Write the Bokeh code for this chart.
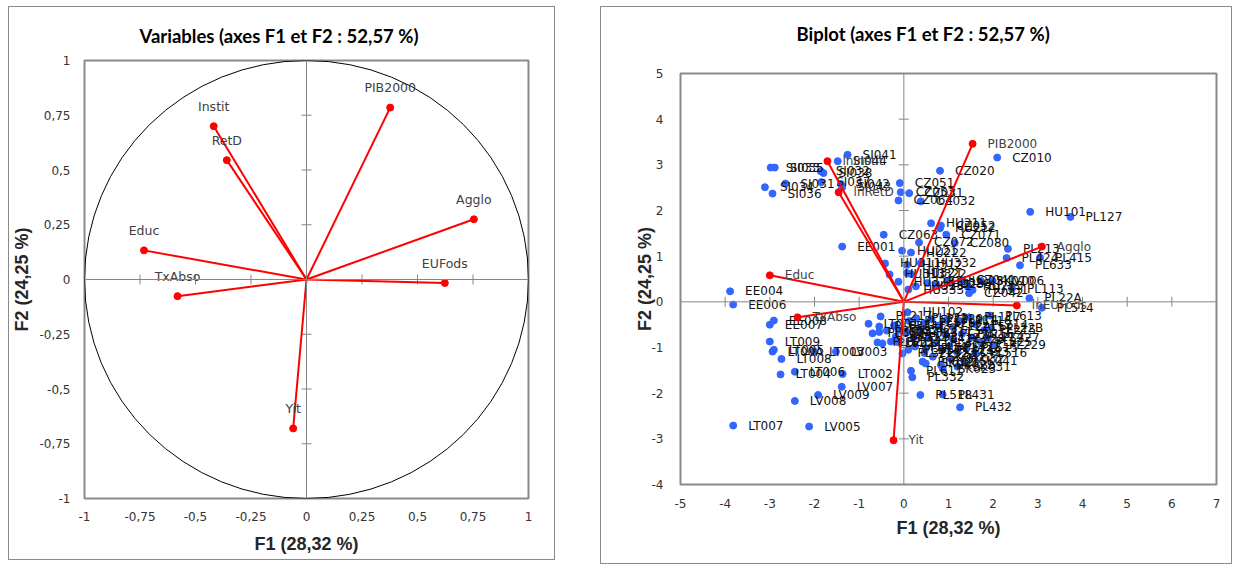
import math
from bokeh.plotting import figure
from bokeh.models import Span, FixedTicker, Range1d, CustomJSTickFormatter, Title
from bokeh.embed import file_html
from bokeh.resources import INLINE
from bokeh.core.properties import value

TITLE_L = "Variables (axes F1 et F2 : 52,57 %)"
TITLE_R = "Biplot (axes F1 et F2 : 52,57 %)"
X_TITLE = "F1 (28,32 %)"
Y_TITLE = "F2 (24,25 %)"

# ---- correlation circle (variables) ----
var_names = ["PIB2000", "Instit", "RetD", "Agglo", "Educ", "EUFods", "TxAbso", "Yit"]
var_f1 = [0.377, -0.418, -0.359, 0.754, -0.732, 0.623, -0.581, -0.060]
var_f2 = [0.785, 0.700, 0.545, 0.275, 0.133, -0.016, -0.076, -0.680]

# ---- biplot vectors ----
vec_names = ["PIB2000", "lnInstit", "lnRetD", "Agglo", "Educ", "lnEUFods", "TxAbso", "Yit"]
vec_f1 = [1.54, -1.71, -1.46, 3.09, -3.00, 2.53, -2.38, -0.23]
vec_f2 = [3.46, 3.08, 2.40, 1.21, 0.58, -0.08, -0.34, -3.03]

# ---- biplot observations ----
obs_names = [
    "SI041", "SI044", "SI033", "SI035", "SI032", "SI038", "SI037", "SI031", "SI034", "SI036",
    "SI042", "SI043", "CZ010", "CZ020", "CZ051", "CZ053", "CZ031", "CZ064", "CZ032", "HU101",
    "PL127", "HU211", "CZ052", "HU212", "CZ063", "CZ071", "CZ072", "CZ080", "EE001", "HU221",
    "HU222", "PL213", "PL424", "PL415", "PL633", "HU311", "HU332", "HU312", "HU313", "HU321",
    "HU322", "HU323", "HU333", "HU231", "HU232", "HU233", "HU223", "CZ041", "HU213", "HU331",
    "SK010", "LV006", "CZ042", "PL113", "PL22A", "PL514", "EE004", "EE006", "EE008", "EE007",
    "LT009", "LT005", "LT00A", "LT008", "LT003", "LV003", "LT004", "LT006", "LT002", "LV007",
    "LV009", "LV008", "LT007", "LV005", "LT001", "PL217", "PL631", "PL634", "PL623", "PL632",
    "PL621", "PL622", "PL311", "PL312", "PL321", "PL322", "PL341", "PL342", "HU102", "PL121",
    "PL122", "PL128", "PL129", "PL12A", "PL114", "PL115", "PL116", "PL117", "PL214", "PL215",
    "PL216", "PL224", "PL225", "PL227", "PL228", "PL22C", "PL323", "PL331", "PL411", "PL412",
    "PL413", "PL414", "PL421", "PL422", "PL423", "PL515", "PL516", "PL517", "PL521", "PL522",
    "PL612", "PL613", "PL22B", "PL229", "SK021", "SK022", "SK023", "SK031", "SK032", "SK041",
    "SK042", "PL611", "PL332", "PL518", "PL431", "PL432",
]
obs_f1 = [
    -1.26, -1.48, -2.98, -2.89, -1.86, -1.80, -1.85, -2.65, -3.11, -2.94,
    -1.41, -1.38, 2.09, 0.81, -0.09, -0.07, 0.12, -0.12, 0.38, 2.83,
    3.73, 0.61, 0.83, 0.81, -0.45, 0.95, 0.34, 1.14, -1.38, -0.04,
    0.16, 2.33, 2.30, 3.05, 2.60, -0.42, 0.38, 0.07, -0.32, 0.07,
    0.16, -0.12, 0.10, 0.27, 0.53, 0.72, 0.98, 1.28, 1.43, 1.54,
    1.73, 1.99, 1.46, 2.42, 2.81, 3.09, -3.89, -3.82, -2.91, -3.00,
    -3.00, -2.91, -2.94, -2.74, -2.01, -1.52, -2.76, -2.44, -1.37, -1.39,
    -1.92, -2.44, -3.82, -2.12, -0.79, -0.52, -0.70, -0.55, -0.55, -0.38,
    -0.59, -0.48, -0.29, -0.18, -0.14, -0.03, -0.22, -0.10, 0.08, 0.12,
    0.28, 0.45, 0.62, 0.78, 0.95, 1.10, 1.25, 1.46, 1.62, 1.80,
    1.30, 1.52, 1.72, 1.88, 1.10, 0.92, 0.05, 0.22, 0.38, 0.55,
    0.70, 0.25, 0.85, 1.02, 1.20, 1.40, 1.60, 0.10, 0.49, 0.46,
    0.42, 1.93, 1.95, 2.02, 0.49, 0.83, 0.87, 1.20, 1.05, 1.35,
    0.65, 0.16, 0.19, 0.37, 0.87, 1.26,
]
obs_f2 = [
    3.22, 3.08, 2.94, 2.94, 2.86, 2.82, 2.62, 2.59, 2.51, 2.37,
    2.58, 2.51, 3.16, 2.87, 2.60, 2.40, 2.38, 2.22, 2.20, 1.97,
    1.86, 1.72, 1.67, 1.61, 1.47, 1.47, 1.30, 1.29, 1.21, 1.12,
    1.08, 1.16, 0.96, 0.97, 0.80, 0.84, 0.85, 0.81, 0.60, 0.63,
    0.61, 0.44, 0.27, 0.34, 0.41, 0.39, 0.45, 0.48, 0.34, 0.26,
    0.45, 0.45, 0.19, 0.29, 0.08, -0.13, 0.23, -0.06, -0.41, -0.50,
    -0.87, -1.05, -1.09, -1.25, -1.09, -1.09, -1.59, -1.53, -1.58, -1.86,
    -2.04, -2.17, -2.71, -2.73, -0.48, -0.32, -0.69, -0.54, -0.66, -0.63,
    -0.89, -0.91, -0.87, -0.76, -0.88, -1.13, -0.52, -0.62, -0.23, -0.42,
    -0.36, -0.47, -0.38, -0.52, -0.40, -0.55, -0.42, -0.34, -0.50, -0.62,
    -0.70, -0.78, -0.88, -0.80, -0.82, -0.70, -0.68, -0.78, -0.66, -0.80,
    -0.90, -0.98, -1.05, -0.98, -1.10, -1.02, -1.12, -1.05, -1.02, -1.12,
    -1.31, -0.30, -0.58, -0.94, -1.35, -1.38, -1.46, -1.42, -1.25, -1.30,
    -1.20, -1.51, -1.65, -2.04, -2.03, -2.31,
]

left_ticks = [-1, -0.75, -0.5, -0.25, 0, 0.25, 0.5, 0.75, 1]
right_x_ticks = [-5, -4, -3, -2, -1, 0, 1, 2, 3, 4, 5, 6, 7]
right_y_ticks = [-4, -3, -2, -1, 0, 1, 2, 3, 4, 5]

RED = "#ff0000"
BLUE = "#3366ff"
GRID = "#868686"
TXT = "#333333"
TICK_FONT = "DejaVu Sans"


def frame_style(left, top):
    return {"position": "absolute", "left": f"{left}px", "top": f"{top}px",
            "border": "1px solid #8a8a8a"}


def comma_fmt():
    return CustomJSTickFormatter(code="return String(tick).replace('.', ',');")


def add_title(p, text, spacer, offset):
    # spacer panel nearest the frame, then the real title above it
    p.add_layout(Title(text=" ", text_font_size="1px", standoff=spacer), "above")
    p.add_layout(Title(text=text, align="left", offset=offset, standoff=0,
                       text_font="Lato", text_font_style="bold", text_font_size="18.5px",
                       text_color="#000000"), "above")


def base_style(p, xticks, yticks, x_std, y_std, xl_std, yl_std):
    for ax, ticks in ((p.xaxis, xticks), (p.yaxis, yticks)):
        ax.ticker = FixedTicker(ticks=ticks)
        ax.formatter = comma_fmt()
        ax.axis_line_color = None
        ax.major_tick_line_color = None
        ax.minor_tick_line_color = None
        ax.major_tick_out = 0
        ax.major_tick_in = 0
        ax.major_label_text_font = TICK_FONT
        ax.major_label_text_font_size = "12px"
        ax.major_label_text_color = TXT
        ax.axis_label_text_font = "Liberation Sans"
        ax.axis_label_text_font_style = "bold"
        ax.axis_label_text_font_size = "18px"
        ax.axis_label_text_color = "#262626"
    p.xaxis.axis_label = X_TITLE
    p.yaxis.axis_label = Y_TITLE
    p.xaxis.major_label_standoff = x_std
    p.yaxis.major_label_standoff = y_std
    p.xaxis.axis_label_standoff = xl_std
    p.yaxis.axis_label_standoff = yl_std
    p.xgrid.visible = False
    p.ygrid.visible = False
    p.outline_line_color = "#8a8a8a"
    p.outline_line_width = 2
    p.background_fill_color = "white"
    p.border_fill_color = "white"
    # zero axes with their tick marks
    p.add_layout(Span(location=0, dimension="width", line_color=GRID, line_width=1))
    p.add_layout(Span(location=0, dimension="height", line_color=GRID, line_width=1))
    xt = [t for t in xticks if t != 0]
    yt = [t for t in yticks if t != 0]
    p.scatter(x=xt, y=[0] * len(xt), marker="dash", angle=math.pi / 2, size=10,
              line_color=GRID, line_width=1)
    p.scatter(x=[0] * len(yt), y=yt, marker="dash", size=10, line_color=GRID, line_width=1)


# ================= left: variables =================
pl = figure(width=547, height=554, x_range=Range1d(-1, 1), y_range=Range1d(-1, 1),
            output_backend="svg", toolbar_location=None, title_location=None,
            min_border_left=75, min_border_right=28, min_border_top=53, min_border_bottom=63,
            styles=frame_style(8, 6))
base_style(pl, left_ticks, left_ticks, 13, 14, 10, 4)
add_title(pl, TITLE_L, 11, 55)
pl.ellipse(x=0, y=0, width=2, height=2, fill_color=None, line_color="#000000", line_width=1)
pl.segment(x0=[0] * len(var_f1), y0=[0] * len(var_f1), x1=var_f1, y1=var_f2,
           line_color=RED, line_width=2)
pl.scatter(x=var_f1, y=var_f2, size=7, fill_color=RED, line_color=RED)
pl.text(x=var_f1, y=var_f2, text=var_names, y_offset=-20, text_align="center",
        text_baseline="middle", text_font=value(TICK_FONT), text_font_size="12.5px",
        text_color="#404040")

# ================= right: biplot =================
pr = figure(width=632, height=558, x_range=Range1d(-5, 7), y_range=Range1d(-4, 5),
            output_backend="svg", toolbar_location=None, title_location=None,
            min_border_left=79, min_border_right=17, min_border_top=66, min_border_bottom=81,
            styles=frame_style(600, 6))
base_style(pr, right_x_ticks, right_y_ticks, 14, 17, 7, -6)
add_title(pr, TITLE_R, 26, 116)
pr.scatter(x=obs_f1, y=obs_f2, size=7, fill_color=BLUE, line_color=BLUE)
pr.text(x=obs_f1, y=obs_f2, text=obs_names, x_offset=15, text_align="left",
        text_baseline="middle", text_font=value(TICK_FONT), text_font_size="12px",
        text_color="#111111")
pr.segment(x0=[0] * len(vec_f1), y0=[0] * len(vec_f1), x1=vec_f1, y1=vec_f2,
           line_color=RED, line_width=2)
pr.scatter(x=vec_f1, y=vec_f2, size=7, fill_color=RED, line_color=RED)
pr.text(x=vec_f1, y=vec_f2, text=vec_names, x_offset=15, text_align="left",
        text_baseline="middle", text_font=value(TICK_FONT), text_font_size="12px",
        text_color="#404040")

open("out.html", "w").write(file_html([pl, pr], INLINE))
